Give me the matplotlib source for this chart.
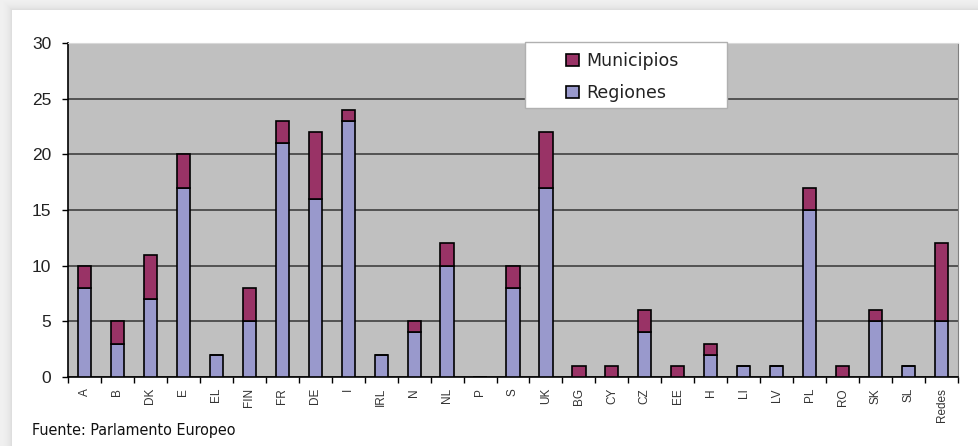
import numpy as np
import matplotlib
matplotlib.use("Agg")
import matplotlib.pyplot as plt
from matplotlib.ticker import MultipleLocator, FixedLocator
from matplotlib.patches import Rectangle
from matplotlib.font_manager import FontProperties, fontManager

categories = ["A", "B", "DK", "E", "EL", "FIN", "FR", "DE", "I", "IRL", "N", "NL", "P",
              "S", "UK", "BG", "CY", "CZ", "EE", "H", "LI", "LV", "PL", "RO", "SK", "SL", "Redes"]
regiones = [8, 3, 7, 17, 2, 5, 21, 16, 23, 2, 4, 10, 0,
            8, 17, 0, 0, 4, 0, 2, 1, 1, 15, 0, 5, 1, 5]
municipios = [2, 2, 4, 3, 0, 3, 2, 6, 1, 0, 1, 2, 0,
              2, 5, 1, 1, 2, 1, 1, 0, 0, 2, 1, 1, 0, 7]

W, H = 979, 446
fig = plt.figure(figsize=(W / 100, H / 100), dpi=100)
fig.patch.set_facecolor("white")

# card background with a soft shadow on its top and left edges
bg = fig.add_axes([0, 0, 1, 1], zorder=-10)
yy, xx = np.mgrid[0:H, 0:W]
card_x, card_y = 12, 10
dx = np.clip(card_x - xx, 0, None)
dy = np.clip(card_y - yy, 0, None)
outside = (xx < card_x) | (yy < card_y)
d = np.maximum(dx, dy).astype(float)
shade = np.where(outside, 0.95 - 0.10 * np.exp(-d / 4.0), 1.0)
bg.imshow(np.dstack([shade] * 3), extent=[0, W, H, 0], aspect="auto", interpolation="bilinear")
bg.set_axis_off()

ax = fig.add_axes([68 / W, 1 - 377 / H, (958 - 68) / W, (377 - 43) / H])
ax.set_facecolor("#c0c0c0")

x = np.arange(len(categories))
bw = 0.4
b1 = ax.bar(x, regiones, bw, color="#9999cc", edgecolor="black", linewidth=1.2,
            label="Regiones", zorder=3)
b2 = ax.bar(x, municipios, bw, bottom=regiones, color="#993366", edgecolor="black",
            linewidth=1.2, label="Municipios", zorder=3)

ax.set_xlim(-0.5, len(categories) - 0.5)
ax.set_ylim(0, 30)
ax.yaxis.set_major_locator(MultipleLocator(5))
ax.grid(axis="y", color="#404040", linewidth=1.2, zorder=1)

ax.set_xticks(x)
ax.set_xticklabels(categories, rotation=90, fontsize=8.5, color="#333333",
                   family=["Liberation Sans", "DejaVu Sans"])
ax.xaxis.set_minor_locator(FixedLocator(np.arange(-0.5, len(categories), 1.0)))
ax.tick_params(axis="x", which="major", length=0, pad=8)
ax.tick_params(axis="x", which="minor", length=4, width=1, color="black", direction="out")
ax.tick_params(axis="y", length=4, width=1, direction="out", labelsize=12.5, pad=8,
               labelcolor="#222222")
for lab in ax.get_yticklabels():
    lab.set_family(["Liberation Sans", "DejaVu Sans"])

ax.spines["left"].set_color("black")
ax.spines["bottom"].set_color("black")
ax.spines["left"].set_linewidth(1.2)
ax.spines["bottom"].set_linewidth(1.2)
ax.spines["top"].set_color("#d8d8d8")
ax.spines["right"].set_color("#808080")

# legend: white framed box with the two entries
box = Rectangle((525 / W, 1 - 108 / H), (727 - 525) / W, (108 - 42) / H,
                transform=fig.transFigure, facecolor="white", edgecolor="#b0b0b0",
                linewidth=1.0, zorder=20)
fig.add_artist(box)
leg = fig.legend(handles=[b2, b1], labels=["Municipios", "Regiones"],
                 loc="upper left", bbox_to_anchor=(561 / W, 1 - 47 / H),
                 frameon=False, handlelength=0.72, handleheight=0.72,
                 handletextpad=0.45, borderpad=0.3, labelspacing=0.8, borderaxespad=0,
                 prop={"family": ["DejaVu Sans"], "size": 12.5})
leg.set_zorder(21)
for t in leg.get_texts():
    t.set_color("#222222")

# source note in a narrow face when one is available
src_prop = None
for f in fontManager.ttflist:
    name = f.fname.lower()
    if ("narrow" in name or "condensed" in name) and f.style == "normal" \
            and f.weight in (400, "normal", "regular", "book") and "mono" not in name:
        src_prop = FontProperties(fname=f.fname, size=11.5)
        break
if src_prop is None:
    src_prop = FontProperties(family=["Liberation Sans", "DejaVu Sans"], size=11)
fig.text(32 / W, 1 - 435 / H, "Fuente: Parlamento Europeo", fontproperties=src_prop,
         color="#111111", va="baseline", ha="left")

fig.savefig("out.png", dpi=100)
